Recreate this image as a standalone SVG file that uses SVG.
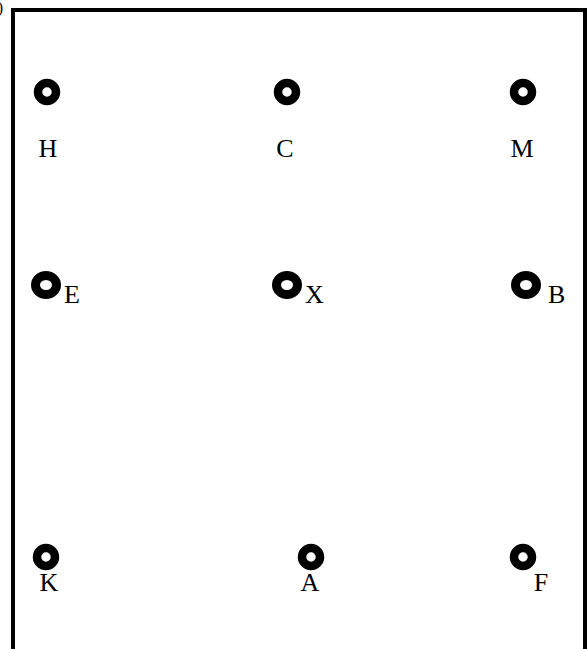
<svg xmlns="http://www.w3.org/2000/svg" width="587" height="649" viewBox="0 0 587 649">
<style>
.ring{fill:none;stroke:#000;stroke-width:8.5}
.big{fill:none;stroke:#000;stroke-width:9}
.lbl{font-family:"Liberation Serif","Times New Roman",serif;font-size:26px;fill:#000}
</style>
<rect width="587" height="649" fill="#fff"/>
<text x="3" y="13" text-anchor="end" font-family="Liberation Serif, serif" font-size="16">0)</text>
<rect x="13" y="10" width="572" height="700" fill="none" stroke="#000" stroke-width="4"/>
<g id="connectors"></g>
<g id="H"><circle class="ring" cx="47" cy="92" r="9"/><text class="lbl" x="48" y="157" text-anchor="middle">H</text></g>
<g id="C"><circle class="ring" cx="287" cy="92" r="9"/><text class="lbl" x="285" y="157" text-anchor="middle">C</text></g>
<g id="M"><circle class="ring" cx="523" cy="92" r="9"/><text class="lbl" x="522" y="157" text-anchor="middle">M</text></g>
<g id="E"><ellipse class="big" cx="46" cy="285" rx="10.5" ry="9.5"/><text class="lbl" x="64" y="303">E</text></g>
<g id="X"><ellipse class="big" cx="287" cy="285" rx="10.5" ry="9.5"/><text class="lbl" x="305" y="303">X</text></g>
<g id="B"><ellipse class="big" cx="526" cy="285" rx="10.5" ry="9.5"/><text class="lbl" x="548" y="303">B</text></g>
<g id="K"><circle class="ring" cx="46" cy="557" r="9"/><text class="lbl" x="49" y="591" text-anchor="middle">K</text></g>
<g id="A"><circle class="ring" cx="311" cy="557" r="9"/><text class="lbl" x="310" y="591" text-anchor="middle">A</text></g>
<g id="F"><circle class="ring" cx="523" cy="557" r="9"/><text class="lbl" x="541" y="591" text-anchor="middle">F</text></g>
</svg>
